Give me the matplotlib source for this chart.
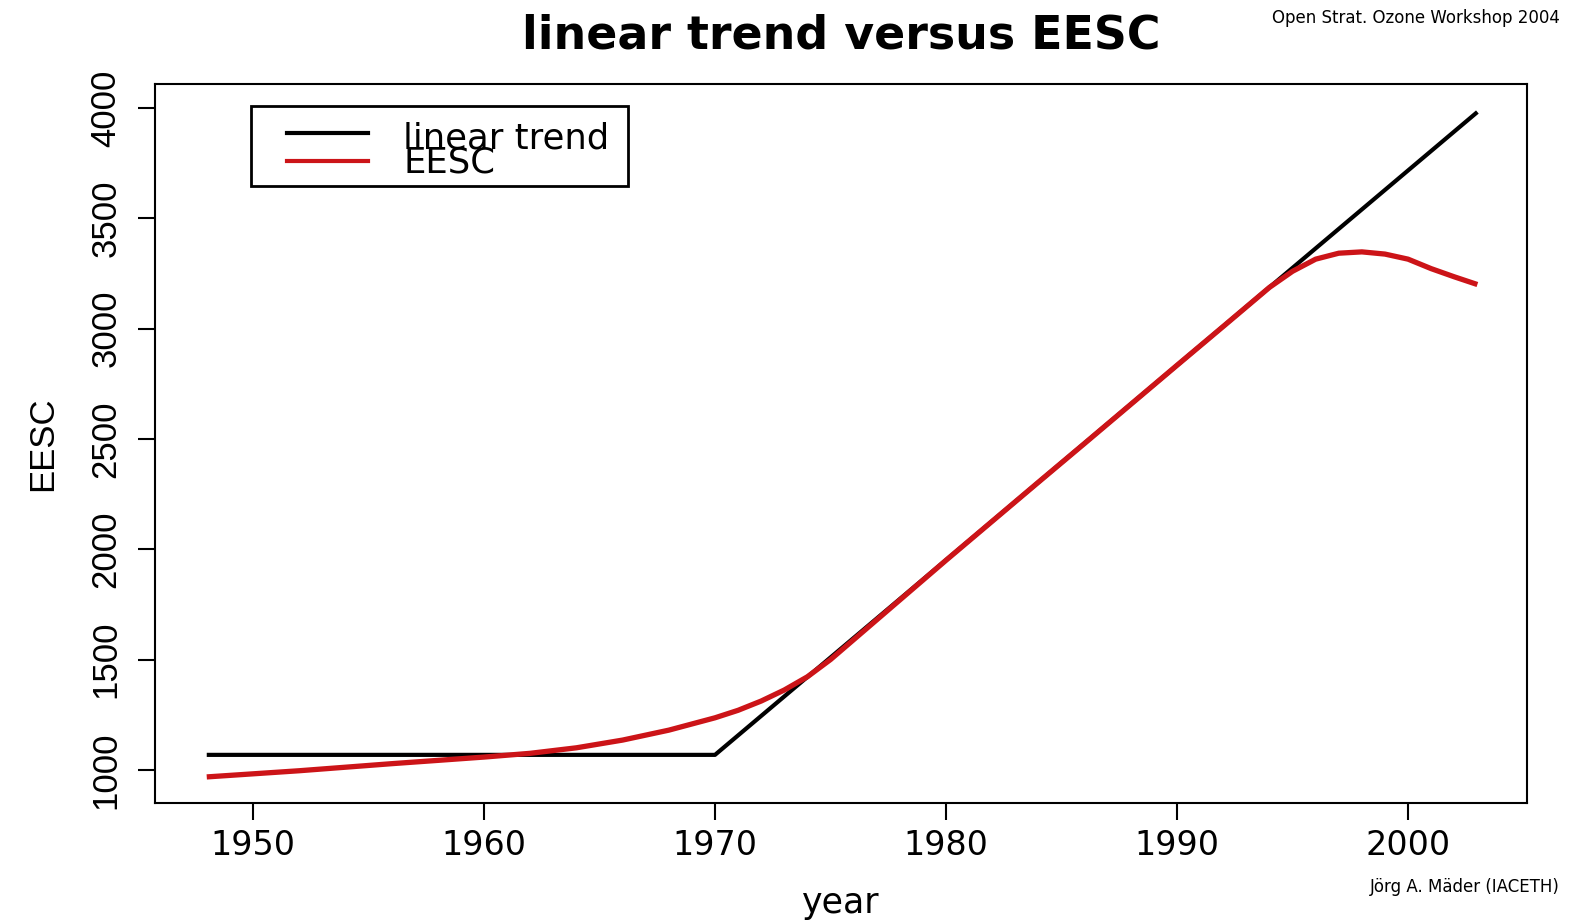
import matplotlib
matplotlib.use("Agg")
import matplotlib.pyplot as plt
from matplotlib.lines import Line2D
from matplotlib.patches import Rectangle

plt.rcParams["font.family"] = ["DejaVu Sans"]

COR_TREND = "#000000"
COR_EESC = "#cc1418"
FONTE_VERTICAL = ["Liberation Sans", "DejaVu Sans"]

# piecewise linear trend (breakpoints)
trend_years = [1948, 1970, 2003]
trend_values = [1068, 1068, 3982]

# EESC
eesc_years = [1948, 1950, 1952, 1954, 1956, 1958, 1960, 1962, 1964, 1966, 1968,
              1970, 1971, 1972, 1973, 1974, 1975, 1976, 1977, 1978, 1979, 1980,
              1982, 1984, 1986, 1988, 1990, 1992, 1994, 1995, 1996, 1997, 1998,
              1999, 2000, 2001, 2002, 2003]
eesc_values = [968, 982, 996, 1012, 1028, 1043, 1058, 1075, 1100, 1135, 1180,
               1236, 1270, 1312, 1362, 1422, 1500, 1590, 1680, 1770, 1860, 1950,
               2127, 2304, 2480, 2657, 2834, 3010, 3187, 3260, 3315, 3342, 3348,
               3338, 3315, 3272, 3235, 3200]

xticks = [1950, 1960, 1970, 1980, 1990, 2000]
yticks = [1000, 1500, 2000, 2500, 3000, 3500, 4000]
nomes_legenda = ["linear trend", "EESC"]

fig = plt.figure(figsize=(15.72, 9.24), dpi=100)
ax = fig.add_axes([0.0986, 0.131, 0.8728, 0.7781])

ax.plot(trend_years, trend_values, color=COR_TREND, linewidth=3.0,
        solid_capstyle="butt")
ax.plot(eesc_years, eesc_values, color=COR_EESC, linewidth=3.8,
        solid_capstyle="butt")

ax.set_xlim(1945.76, 2005.15)
ax.set_ylim(850, 4109)
ax.set_xticks(xticks)
ax.set_yticks(yticks)
ax.tick_params(axis="both", direction="out", length=12, width=1.5)
ax.tick_params(axis="x", labelsize=24, pad=7)
ax.tick_params(axis="y", labelsize=25, pad=11.5, labelrotation=90,
               labelfontfamily="Liberation Sans")
for lbl in ax.get_yticklabels():
    lbl.set_va("center")
for sp in ax.spines.values():
    sp.set_linewidth(1.5)

ax.set_xlabel("year", fontsize=25, labelpad=17)
ax.set_ylabel("EESC", fontsize=25, labelpad=22, family=FONTE_VERTICAL)
fig.text(0.535, 0.948, "linear trend versus EESC", fontsize=33,
         fontweight="bold", ha="center", va="baseline")

# legend drawn by hand, R style (rows overlap a little)
fig.add_artist(Rectangle((0.1597, 0.7987), 0.2398, 0.0866, transform=fig.transFigure,
                         facecolor="white", edgecolor="black", linewidth=2.0))
for cor, y_linha, y_texto, nome in zip([COR_TREND, COR_EESC], [0.8561, 0.8258],
                                       [0.8398, 0.8128], nomes_legenda):
    fig.add_artist(Line2D([0.1826, 0.2341], [y_linha, y_linha], transform=fig.transFigure,
                          color=cor, linewidth=3.0))
    fig.text(0.2564, y_texto, nome, fontsize=25.5, ha="left", va="baseline")

fig.text(0.992, 0.9805, "Open Strat. Ozone Workshop 2004", fontsize=12,
         ha="right", va="center")
fig.text(0.992, 0.040, "Jörg A. Mäder (IACETH)", fontsize=12,
         ha="right", va="center")

fig.savefig("out.png", dpi=100)
